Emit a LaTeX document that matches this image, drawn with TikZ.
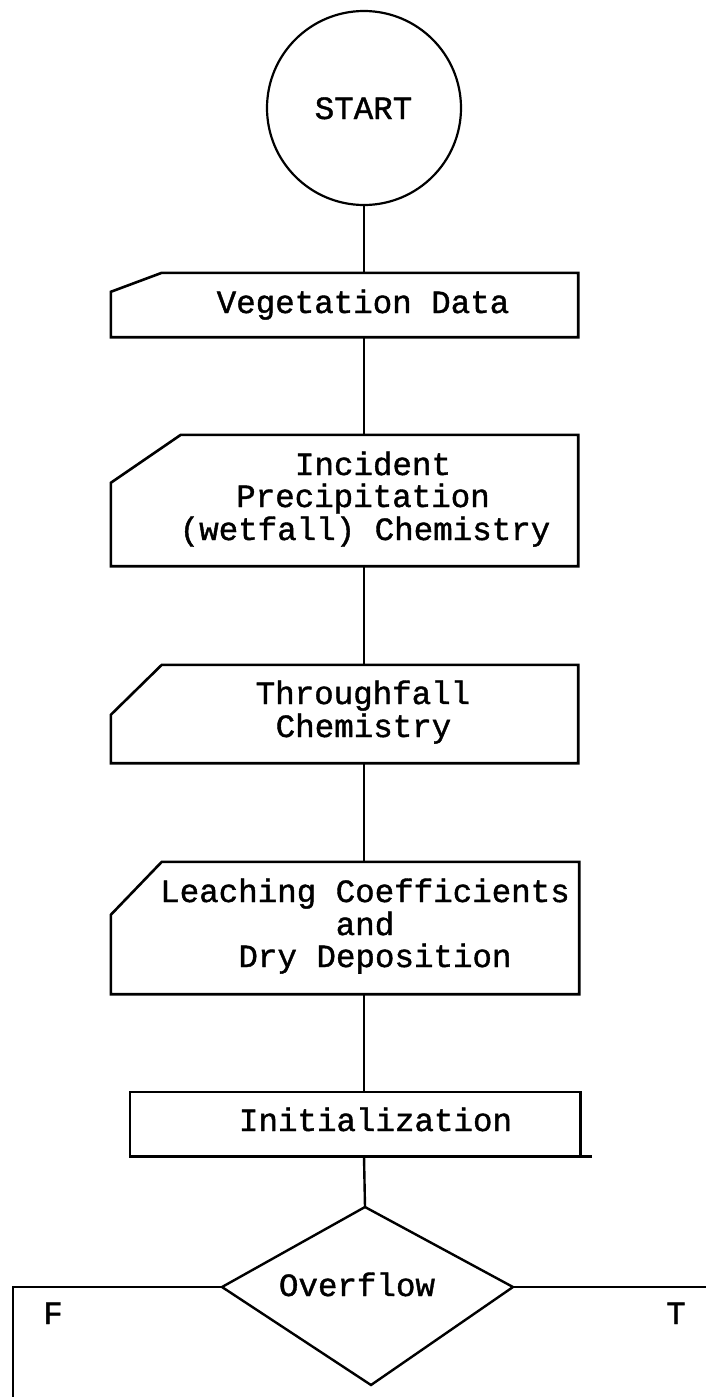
\documentclass[tikz,border=0pt]{standalone}
\usepackage{fontspec}
\setmonofont{Liberation Mono}[FakeBold=1.2]
\begin{document}
\begin{tikzpicture}[x=1pt,y=-1pt,line join=miter,
  lbl/.style={font=\ttfamily\fontsize{32.5}{32.5}\selectfont,inner sep=0pt,anchor=base},
  frame/.style={draw=none,rectangle,inner sep=0pt},
  outline/.style={draw=black,line width=2.6pt},
  link/.style={draw=black,line width=2.4pt}]
\useasboundingbox (0,0) rectangle (706,1397);

% terminal
\node[circle,draw,line width=2.2pt,minimum size=194pt,inner sep=0pt] (start) at (364,108) {};
\node[lbl] (startlbl) at (363.5,119) {START};

% manual-input boxes (chamfered top-left corner)
\node[frame,minimum width=467pt,minimum height=64pt] (veg) at (344.5,305) {};
\draw[outline] ([xshift=51pt]veg.north west) -- (veg.north east) -- (veg.south east)
  -- (veg.south west) -- ([yshift=-19pt]veg.north west) -- cycle;
\node[lbl] (vegl) at (363,313) {Vegetation Data};

\node[frame,minimum width=467pt,minimum height=131pt] (pre) at (344.5,500.5) {};
\draw[outline] ([xshift=70pt]pre.north west) -- (pre.north east) -- (pre.south east)
  -- (pre.south west) -- ([yshift=-48pt]pre.north west) -- cycle;
\node[lbl] (prea) at (373,475) {Incident};
\node[lbl] (preb) at (363,507) {Precipitation};
\node[lbl] (prec) at (365,540) {(wetfall) Chemistry};

\node[frame,minimum width=467pt,minimum height=98pt] (thr) at (344.5,714) {};
\draw[outline] ([xshift=51pt]thr.north west) -- (thr.north east) -- (thr.south east)
  -- (thr.south west) -- ([yshift=-50pt]thr.north west) -- cycle;
\node[lbl] (thra) at (363,704) {Throughfall};
\node[lbl] (thrb) at (363.5,737) {Chemistry};

\node[frame,minimum width=468pt,minimum height=132pt] (lea) at (345,928) {};
\draw[outline] ([xshift=51pt]lea.north west) -- (lea.north east) -- (lea.south east)
  -- (lea.south west) -- ([yshift=-53pt]lea.north west) -- cycle;
\node[lbl] (leaa) at (365,902) {Leaching Coefficients};
\node[lbl] (leab) at (365,935) {and};
\node[lbl] (leac) at (375,967) {Dry Deposition};

% process box
\node[frame,minimum width=450pt,minimum height=64pt] (init) at (355,1124) {};
\draw[outline] ([xshift=12pt]init.south east) -- (init.south west) -- (init.north west)
  -- (init.north east) -- (init.south east);
\node[lbl] (initl) at (375.5,1131) {Initialization};

% decision
\coordinate (dtop) at (365,1207);
\coordinate (dleft) at (222,1287);
\coordinate (dright) at (513,1287);
\coordinate (dbot) at (371,1385);
\draw[outline,line width=2.4pt] (dtop) -- (dright) -- (dbot) -- (dleft) -- cycle;
\node[lbl] (ovf) at (357,1296) {Overflow};

% flow lines
\draw[link] (start.south) -- (start.south |- veg.north);
\draw[link] (start.south |- veg.south) -- (start.south |- pre.north);
\draw[link] (start.south |- pre.south) -- (start.south |- thr.north);
\draw[link] (start.south |- thr.south) -- (start.south |- lea.north);
\draw[link] (start.south |- lea.south) -- (start.south |- init.north);
\draw[link] (start.south |- init.south) -- (dtop);

% branches
\coordinate (fcorner) at (13,1287);
\coordinate (fend) at (13,1397);
\coordinate (tend) at (706,1287);
\draw[link] (dleft) -- (fcorner) -- (fend);
\draw[link] (dright) -- (tend);
\node[lbl] (flbl) at (53,1324) {F};
\node[lbl] (tlbl) at (676,1324) {T};
\end{tikzpicture}
\end{document}
